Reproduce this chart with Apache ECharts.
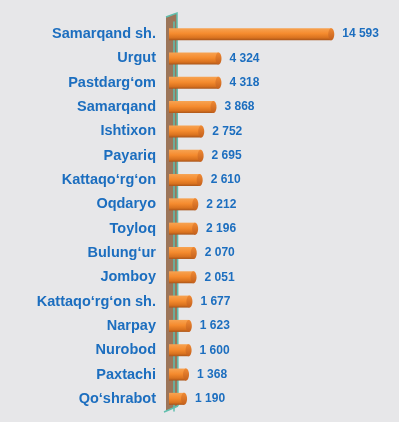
<!DOCTYPE html>
<html>
<head>
<meta charset="utf-8">
<script src="https://cdn.jsdelivr.net/npm/echarts@6/dist/echarts.min.js"></script>
<style>
  html, body { margin: 0; padding: 0; background: #e7e7e9; }
  #chart { width: 399px; height: 422px; }
</style>
</head>
<body>
<div id="chart"></div>
<script>
// tumanlar
const districts = ['Samarqand sh.', 'Urgut', 'Pastdarg‘om', 'Samarqand', 'Ishtixon', 'Payariq',
  'Kattaqo‘rg‘on', 'Oqdaryo', 'Toyloq', 'Bulung‘ur', 'Jomboy', 'Kattaqo‘rg‘on sh.',
  'Narpay', 'Nurobod', 'Paxtachi', 'Qo‘shrabot']
// qiymatlar
const values = [14593, 4324, 4318, 3868, 2752, 2695, 2610, 2212, 2196, 2070, 2051, 1677,
  1623, 1600, 1368, 1190]

const blue = '#1c6ebf'
const teal = '#5fbfae'

// 14593 -> "14 593"
function fmt(v) {
  return String(v).replace(/\B(?=(\d{3})+(?!\d))/g, ' ')
}

// silindr chizish
function renderCylinder(params, api) {
  const idx = api.value(1)
  const end = api.coord([api.value(0), idx])
  const start = api.coord([0, idx])
  const h = 12
  const x0 = start[0] - 5
  return {
    type: 'group',
    children: [
      {
        type: 'rect',
        shape: { x: x0, y: end[1] - h / 2, width: end[0] - 3 - x0, height: h },
        style: {
          fill: new echarts.graphic.LinearGradient(0, 0, 0, 1, [
            { offset: 0, color: '#f7a352' },
            { offset: 0.45, color: '#f58b2e' },
            { offset: 0.8, color: '#d9721f' },
            { offset: 1, color: '#a9551a' }
          ])
        }
      },
      {
        type: 'ellipse',
        shape: { cx: end[0] - 3, cy: end[1], rx: 3, ry: h / 2 },
        style: {
          fill: new echarts.graphic.LinearGradient(0, 0, 0, 1, [
            { offset: 0, color: '#f08a34' },
            { offset: 1, color: '#c4601c' }
          ])
        }
      }
    ]
  }
}

const chart = echarts.init(document.getElementById('chart'))
chart.setOption({
  backgroundColor: '#e7e7e9',
  animation: false,
  grid: { left: 174, right: 46, top: 22, bottom: 11 },
  xAxis: {
    type: 'value',
    min: 0,
    max: 16300,
    show: false
  },
  yAxis: {
    type: 'category',
    data: districts,
    inverse: true,
    z: 3,
    offset: 8,
    axisLine: { lineStyle: { color: teal, width: 1.5 } },
    axisTick: { length: 4, lineStyle: { color: teal, width: 1 } },
    axisLabel: {
      color: blue,
      fontFamily: 'Liberation Sans',
      fontWeight: 'bold',
      fontSize: 14.5,
      margin: 10,
      padding: [0, 0, 6, 0]
    }
  },
  // devor (3D fon)
  graphic: [
    {
      type: 'polygon',
      z: -1,
      shape: { points: [[166, 17], [177, 13], [178, 406], [166, 411]] },
      style: { fill: '#9c7559' }
    },
    {
      type: 'polyline',
      z: -1,
      shape: { points: [[166, 17], [177, 13], [178, 406]] },
      style: { stroke: teal, lineWidth: 1.5 }
    },
    {
      type: 'polyline',
      z: -1,
      shape: { points: [[164, 412], [178, 406]] },
      style: { stroke: teal, lineWidth: 1.5 }
    }
  ],
  series: [
    {
      // faqat yozuvlar uchun
      type: 'bar',
      data: values,
      barWidth: 12,
      z: 1,
      itemStyle: { color: 'rgba(0,0,0,0)' },
      label: {
        show: true,
        position: 'right',
        distance: 8,
        color: blue,
        fontFamily: 'Liberation Sans',
        fontWeight: 'bold',
        fontSize: 12,
        formatter: p => fmt(p.value)
      }
    },
    {
      type: 'custom',
      data: values.map((v, i) => [v, i]),
      encode: { x: 0, y: 1 },
      z: 4,
      renderItem: renderCylinder,
      silent: true
    }
  ]
})
</script>
</body>
</html>
